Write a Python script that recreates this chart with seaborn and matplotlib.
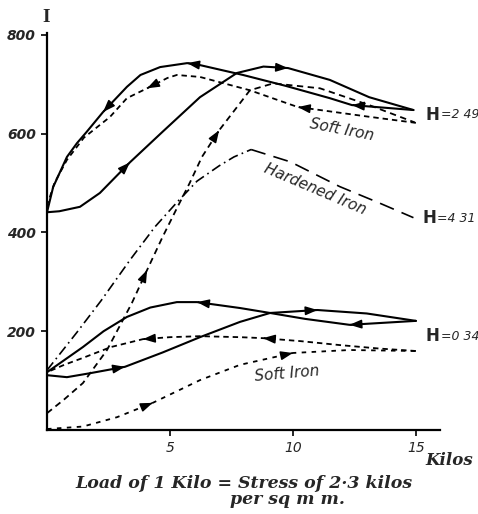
import numpy as np
import pandas as pd
import seaborn as sns
import matplotlib.pyplot as plt

sns.set_style('white')
plt.rcParams['font.family'] = ['DejaVu Sans']

# H=2.49, solid loop: load going on (arrows right) and coming off (arrows left)
hi_on_x = [0, 0.5, 1.34, 2.15, 3.37, 4.7, 6.22, 7.72, 8.8, 9.8, 11.5, 13.1, 14.9]
hi_on_y = [441, 443, 452, 480, 542, 604, 674, 723, 736, 733, 709, 674, 648]
hi_off_x = [14.9, 12.4, 11.5, 9.7, 7.97, 6.22, 5.7, 4.6, 3.8, 3.25, 2.28, 1.6, 1.22, 0.81, 0.25, 0]
hi_off_y = [648, 658, 672, 697, 719, 739, 743, 735, 719, 695, 644, 603, 581, 553, 492, 441]

# H=2.49, soft iron, dashed
soft_on_x = [0, 0.7, 1.46, 2.44, 3.45, 4.07, 4.7, 5.3, 5.8, 6.3, 7.0, 7.85, 8.25, 9.2, 11.1, 13.1, 14.95]
soft_on_y = [34, 62, 95, 162, 257, 324, 391, 451, 500, 553, 607, 662, 688, 702, 692, 658, 623]
soft_off_x = [15.0, 13.0, 11.1, 10.2, 8.25, 6.22, 5.28, 4.9, 4.07, 3.25, 2.56, 1.5, 0.81, 0.3, 0.04]
soft_off_y = [622, 635, 648, 654, 688, 715, 719, 713, 692, 672, 634, 592, 547, 500, 460]

# H=4.31, hardened iron (dash-dot rising, long dashes falling)
hard_x = [0, 1.22, 2.2, 3.4, 4.4, 5.3, 6.1, 7.0, 7.6, 8.3, 9.9, 11.9, 13.5, 14.9]
hard_y = [121, 198, 262, 346, 412, 462, 504, 535, 553, 568, 543, 493, 460, 430]
hard_peak = 9

# H=0.34, solid loop
lo_on_x = [0, 0.81, 1.75, 3.17, 4.7, 6.22, 7.85, 9.07, 11.0, 13.0, 15.0]
lo_on_y = [111, 107, 115, 128, 157, 188, 219, 237, 243, 236, 221]
lo_off_x = [15, 12.3, 10.5, 9.07, 7.85, 6.1, 5.28, 4.2, 3.25, 2.3, 1.46, 0]
lo_off_y = [221, 213, 225, 237, 247, 259, 259, 248, 229, 200, 168, 117]

# H=0.34, soft iron: dashed (off) and dotted (on)
lo_soft_off_x = [15, 13.5, 11.9, 10.3, 8.78, 7.85, 6.22, 5.0, 3.9, 2.6, 1.46, 0.7, 0]
lo_soft_off_y = [160, 165, 172, 180, 186, 188, 190, 188, 184, 168, 146, 132, 117]
lo_soft_on_x = [0, 1.46, 2.85, 4.3, 6.22, 7.85, 10.0, 12.3, 15.0]
lo_soft_on_y = [2, 7, 26, 55, 101, 132, 156, 162, 160]

x_ticks = [5, 10, 15]
y_ticks = [200, 400, 600, 800]


def curve(ax, xs, ys, ls, lw=1.3):
    df = pd.DataFrame({'load': xs, 'I': ys})
    sns.lineplot(data=df, x='load', y='I', sort=False, color='black',
                 linestyle=ls, linewidth=lw, ax=ax)


def arrow(ax, xs, ys, at, way):
    order = np.argsort(xs)
    xp = np.asarray(xs, float)[order]
    yp = np.asarray(ys, float)[order]
    x0 = at - way * 0.06
    ax.annotate('', xy=(at, np.interp(at, xp, yp)), xytext=(x0, np.interp(x0, xp, yp)),
                arrowprops=dict(arrowstyle='-|>,head_length=0.6,head_width=0.22',
                                color='black', lw=1.1, shrinkA=0, shrinkB=0,
                                mutation_scale=12))


fig = plt.figure(figsize=(4.78, 5.14), dpi=100)
ax = fig.add_axes([47 / 478, 84 / 514, 393 / 478, 397 / 514])

curve(ax, hi_on_x, hi_on_y, '-', 1.5)
curve(ax, hi_off_x, hi_off_y, '-', 1.5)
curve(ax, soft_off_x, soft_off_y, (0, (3, 2.2)))
curve(ax, soft_on_x, soft_on_y, (0, (3.5, 2.5)))
curve(ax, hard_x[:hard_peak + 1], hard_y[:hard_peak + 1], (0, (6, 2.5, 1, 2.5)), 1.2)
curve(ax, hard_x[hard_peak:], hard_y[hard_peak:], (0, (9, 5)), 1.2)
curve(ax, lo_on_x, lo_on_y, '-', 1.5)
curve(ax, lo_off_x, lo_off_y, '-', 1.5)
curve(ax, lo_soft_off_x, lo_soft_off_y, (0, (3, 2.2)))
curve(ax, lo_soft_on_x, lo_soft_on_y, (0, (2.5, 3)))

for at in [3.37, 9.8]:
    arrow(ax, hi_on_x, hi_on_y, at, 1)
for at in [12.4, 5.7, 2.28]:
    arrow(ax, hi_off_x, hi_off_y, at, -1)
for at in [10.2, 4.07]:
    arrow(ax, soft_off_x, soft_off_y, at, -1)
for at in [4.07, 7.0]:
    arrow(ax, soft_on_x, soft_on_y, at, 1)
for at in [3.17, 11.0]:
    arrow(ax, lo_on_x, lo_on_y, at, 1)
for at in [12.3, 6.1]:
    arrow(ax, lo_off_x, lo_off_y, at, -1)
for at in [8.78, 3.9]:
    arrow(ax, lo_soft_off_x, lo_soft_off_y, at, -1)
for at in [4.3, 10.0]:
    arrow(ax, lo_soft_on_x, lo_soft_on_y, at, 1)

ax.set_xlim(0, 15.98)
ax.set_ylim(0, 804)
ax.set_xticks(x_ticks)
ax.set_yticks(y_ticks)
ax.set_xticklabels([str(t) for t in x_ticks], fontstyle='italic', fontsize=10)
ax.set_yticklabels([str(t) for t in y_ticks], fontstyle='italic', fontsize=10,
                   fontweight='bold')
ax.tick_params(axis='both', direction='out', length=4, width=1.2, color='black',
               pad=4, bottom=True, left=True)
ax.set_xlabel('')
ax.set_ylabel('')
sns.despine(ax=ax)
for side in ['left', 'bottom']:
    ax.spines[side].set_linewidth(1.6)
    ax.spines[side].set_color('black')

# labels
ax.text(-0.05, 835, 'I', fontsize=14, fontweight='bold', family='Liberation Serif',
        ha='center', va='center', clip_on=False)
ax.text(16.35, -62, 'Kilos', fontsize=12, fontweight='bold', fontstyle='italic',
        family='DejaVu Serif', ha='center', va='center', clip_on=False)

for xt, yt, val in [(15.4, 638, '=2 49'), (15.25, 429, '=4 31'), (15.4, 190, '=0 34')]:
    h = ax.text(xt, yt, 'H', fontsize=12, fontweight='bold', ha='left', va='center',
                clip_on=False)
    ax.annotate(val, xy=(1, 0.5), xycoords=h, xytext=(1, 0), textcoords='offset points',
                fontsize=9, fontstyle='italic', ha='left', va='center')

ax.text(12.0, 607, 'Soft Iron', fontsize=11, fontstyle='italic', rotation=-11,
        ha='center', va='center')
ax.text(10.9, 488, 'Hardened Iron', fontsize=11, fontstyle='italic', rotation=-23,
        ha='center', va='center')
ax.text(9.75, 115, 'Soft Iron', fontsize=11, fontstyle='italic', rotation=5,
        ha='center', va='center')

fig.text(244 / 478, 1 - 483 / 514, 'Load of 1 Kilo = Stress of 2·3 kilos', fontsize=12.5,
         fontweight='bold', fontstyle='italic', family='DejaVu Serif',
         ha='center', va='center')
fig.text(287 / 478, 1 - 500 / 514, 'per sq m m.', fontsize=12.5, fontweight='bold',
         fontstyle='italic', family='DejaVu Serif', ha='center', va='center')

plt.savefig('out.png', dpi=100)
